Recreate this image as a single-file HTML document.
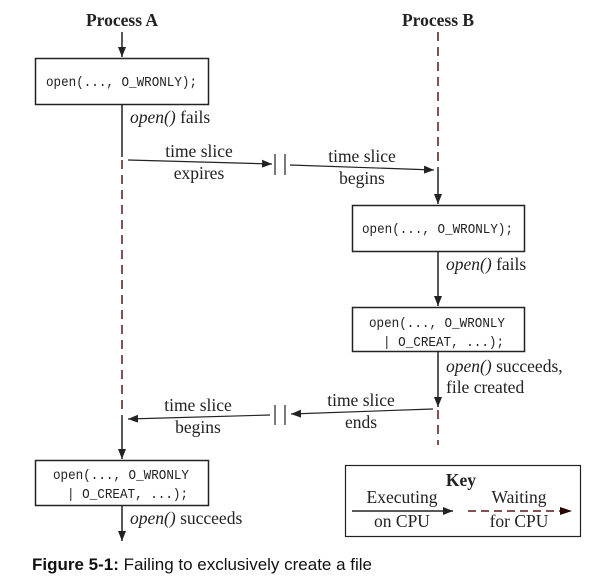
<!DOCTYPE html>
<html><head><meta charset="utf-8"><style>
html,body{margin:0;padding:0;background:#fff;}
svg{display:block;}
.s{font-family:"Liberation Serif",serif;font-size:17.5px;fill:#222;}
.m{font-family:"Liberation Mono",monospace;font-size:14px;fill:#222;}
.b{font-weight:bold;}
.i{font-style:italic;}
</style></head><body>
<svg width="606" height="582" viewBox="0 0 606 582" xmlns="http://www.w3.org/2000/svg">
<defs>
<marker id="ah" markerWidth="10" markerHeight="8" refX="10" refY="4" orient="auto" markerUnits="userSpaceOnUse"><path d="M0,0 L10,4 L0,8 Z" fill="#222"/></marker>
<marker id="ar" markerWidth="12" markerHeight="8" refX="12" refY="4" orient="auto" markerUnits="userSpaceOnUse"><path d="M0,0 L12,4 L0,8 Z" fill="#2a0505"/></marker>
</defs>
<g stroke="#222" stroke-width="1.5" fill="none">
<line x1="122" y1="32" x2="122" y2="57" marker-end="url(#ah)"/>
<rect x="35.5" y="58.5" width="173" height="46"/>
<line x1="122" y1="105" x2="122" y2="157"/>
<line x1="122" y1="160" x2="122" y2="418" stroke="#5a1a1a" stroke-dasharray="9,6"/>
<line x1="122" y1="418" x2="122" y2="459" marker-end="url(#ah)"/>
<rect x="35.5" y="460.5" width="173" height="45"/>
<line x1="122" y1="506" x2="122" y2="541" marker-end="url(#ah)"/>
<line x1="438" y1="32" x2="438" y2="170" stroke="#5a1a1a" stroke-dasharray="9,6"/>
<line x1="438" y1="170" x2="438" y2="204" marker-end="url(#ah)"/>
<rect x="352.5" y="205.5" width="172" height="46"/>
<line x1="438" y1="252" x2="438" y2="306" marker-end="url(#ah)"/>
<rect x="352.5" y="307.5" width="172" height="44"/>
<line x1="438" y1="352" x2="438" y2="407" marker-end="url(#ah)"/>
<line x1="438" y1="410" x2="438" y2="445" stroke="#5a1a1a" stroke-dasharray="9,6"/>
<line x1="128" y1="160" x2="272" y2="164" stroke-width="1.2" marker-end="url(#ah)"/>
<line x1="275" y1="154" x2="275" y2="175" stroke-width="1.2"/>
<line x1="285" y1="154" x2="285" y2="175" stroke-width="1.2"/>
<line x1="290" y1="165" x2="434" y2="170" stroke-width="1.2" marker-end="url(#ah)"/>
<line x1="433" y1="409" x2="291" y2="414" stroke-width="1.2" marker-end="url(#ah)"/>
<line x1="275" y1="405" x2="275" y2="425" stroke-width="1.2"/>
<line x1="285" y1="405" x2="285" y2="425" stroke-width="1.2"/>
<line x1="270" y1="415" x2="128" y2="419" stroke-width="1.2" marker-end="url(#ah)"/>
<rect x="345.5" y="465.5" width="235" height="71" stroke-width="1.2"/>
<line x1="352" y1="511" x2="453" y2="511" marker-end="url(#ah)"/>
<line x1="468" y1="511" x2="572" y2="511" stroke="#5a1a1a" stroke-dasharray="8,5" marker-end="url(#ar)"/>
</g>
<text class="s b" x="122" y="26" text-anchor="middle">Process A</text>
<text class="s b" x="438" y="26" text-anchor="middle">Process B</text>
<text class="m" x="46" y="86" textLength="151" lengthAdjust="spacingAndGlyphs">open(..., O_WRONLY);</text>
<text class="m" x="362" y="233" textLength="151" lengthAdjust="spacingAndGlyphs">open(..., O_WRONLY);</text>
<text class="m" x="369" y="327" textLength="136" lengthAdjust="spacingAndGlyphs">open(..., O_WRONLY</text>
<text class="m" x="383" y="346" textLength="121" lengthAdjust="spacingAndGlyphs">| O_CREAT, ...);</text>
<text class="m" x="53" y="479" textLength="136" lengthAdjust="spacingAndGlyphs">open(..., O_WRONLY</text>
<text class="m" x="67" y="498" textLength="121" lengthAdjust="spacingAndGlyphs">| O_CREAT, ...);</text>
<text class="s" x="130" y="123"><tspan class="i">open()</tspan> fails</text>
<text class="s" x="446" y="270"><tspan class="i">open()</tspan> fails</text>
<text class="s" x="446" y="372"><tspan class="i">open()</tspan> succeeds,</text>
<text class="s" x="446" y="393">file created</text>
<text class="s" x="130" y="524"><tspan class="i">open()</tspan> succeeds</text>
<text class="s" x="199" y="157" text-anchor="middle">time slice</text>
<text class="s" x="199" y="179" text-anchor="middle">expires</text>
<text class="s" x="362" y="162" text-anchor="middle">time slice</text>
<text class="s" x="362" y="184" text-anchor="middle">begins</text>
<text class="s" x="361" y="406" text-anchor="middle">time slice</text>
<text class="s" x="361" y="428" text-anchor="middle">ends</text>
<text class="s" x="198" y="411" text-anchor="middle">time slice</text>
<text class="s" x="198" y="433" text-anchor="middle">begins</text>
<text class="s b" x="461" y="486" text-anchor="middle">Key</text>
<text class="s" x="402" y="503" text-anchor="middle">Executing</text>
<text class="s" x="402" y="527" text-anchor="middle">on CPU</text>
<text class="s" x="519" y="503" text-anchor="middle">Waiting</text>
<text class="s" x="519" y="527" text-anchor="middle">for CPU</text>
<text x="32" y="570" textLength="340" lengthAdjust="spacingAndGlyphs" style="font-family:'Liberation Sans',sans-serif;font-size:17px;fill:#111;"><tspan font-weight="bold">Figure 5-1:</tspan> Failing to exclusively create a file</text>
</svg>
</body></html>
